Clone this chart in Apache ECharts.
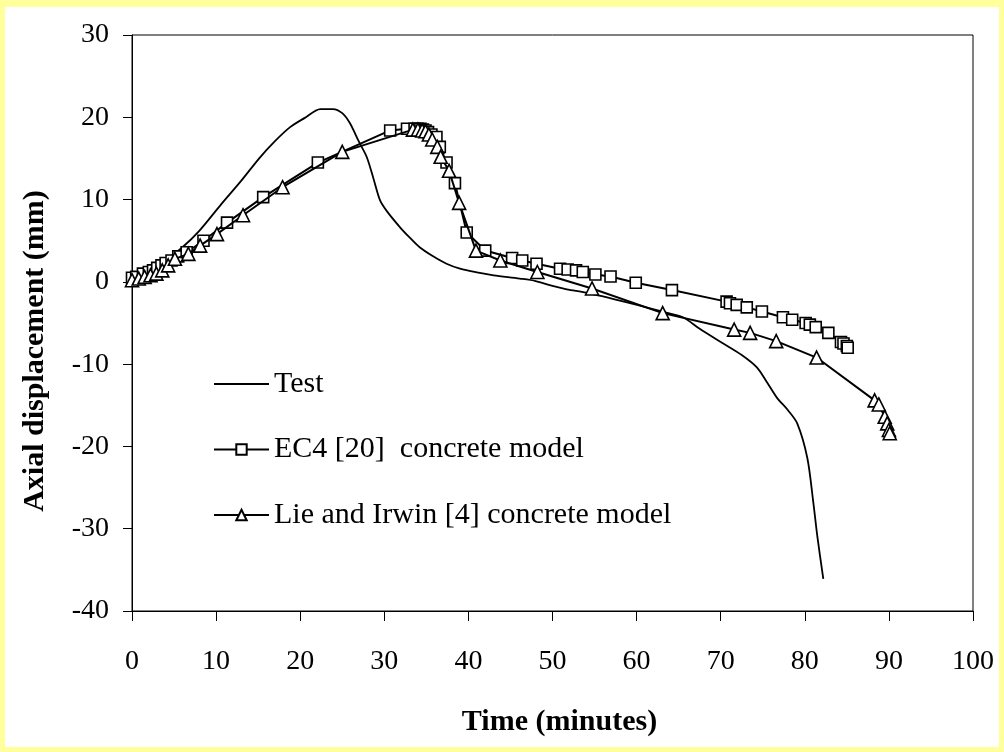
<!DOCTYPE html>
<html>
<head>
<meta charset="utf-8">
<script src="https://cdn.jsdelivr.net/npm/echarts@6/dist/echarts.min.js"></script>
<style>
  html, body { margin: 0; padding: 0; }
  body { width: 1004px; height: 752px; background: #FFFF9C; position: relative; overflow: hidden; }
  #chart { position: absolute; left: 5px; top: 7px; width: 994px; height: 740px; background: #ffffff; }
</style>
</head>
<body>
<div id="chart"></div>
<script>
// ---- data ----
const xTicks = [0, 10, 20, 30, 40, 50, 60, 70, 80, 90, 100];
const yTicks = [-40, -30, -20, -10, 0, 10, 20, 30];

const seriesNames = ['Test', 'EC4 [20]  concrete model', 'Lie and Irwin [4] concrete model'];

const testTime = [0, 2, 4, 6, 8, 10.5, 13, 15.2, 17, 18.8, 20.5, 22.4, 23.9, 25, 25.9, 27, 27.9, 28.7, 29.5, 30.3, 31.9, 33, 34.2, 35.8, 37.4, 39, 41, 43, 46.1, 48, 50, 51.7, 54, 56.5, 58.5, 60.4, 63, 65.5, 67.5, 70.3, 72.5, 74.3, 75.5, 76.7, 78, 79.1, 80.3, 81, 81.5, 82.2];
const testDisp = [0, 1.2, 2.6, 4.2, 6.2, 9.3, 12.3, 15.1, 17.1, 18.8, 19.9, 21.0, 21.0, 20.5, 19.3, 17.0, 15.2, 12.6, 9.9, 8.6, 6.6, 5.4, 4.2, 3.1, 2.2, 1.6, 1.15, 0.8, 0.4, 0.1, -0.5, -0.9, -1.3, -1.9, -2.4, -2.9, -3.6, -4.3, -5.7, -7.5, -8.9, -10.4, -12.2, -14.1, -15.6, -17.2, -21.4, -26.7, -31, -36.1];

const ec4Time = [0, 0.5, 1.3, 2.0, 2.5, 3.0, 3.5, 4.0, 4.7, 5.5, 6.5, 8.5, 11.3, 15.6, 22.1, 30.7, 32.7, 33.6, 34.0, 34.3, 34.6, 34.9, 35.2, 35.6, 36.2, 36.6, 37.4, 38.4, 39.8, 42.0, 45.2, 46.4, 48.1, 50.9, 51.8, 52.8, 53.6, 55.1, 56.9, 59.9, 64.2, 70.7, 71.1, 71.9, 73.1, 74.9, 77.4, 78.5, 80.1, 80.6, 81.3, 82.8, 84.3, 84.6, 85.0, 85.1];
const ec4Disp = [0.5, 0.6, 1.0, 1.2, 1.4, 1.7, 2.0, 2.3, 2.6, 3.1, 3.6, 5.0, 7.2, 10.3, 14.5, 18.4, 18.6, 18.6, 18.6, 18.6, 18.5, 18.4, 18.2, 17.9, 17.6, 16.4, 14.5, 12.0, 6.0, 3.8, 2.9, 2.6, 2.2, 1.6, 1.5, 1.4, 1.2, 0.9, 0.65, -0.1, -1.0, -2.4, -2.6, -2.8, -3.1, -3.6, -4.3, -4.6, -5.0, -5.2, -5.5, -6.2, -7.3, -7.5, -7.8, -8.0];

const lieTime = [0, 0.8, 1.5, 2.2, 2.9, 3.6, 4.3, 5.1, 6.7, 8.1, 10.1, 13.2, 17.9, 25.0, 33.4, 34.0, 34.5, 34.9, 35.3, 35.7, 36.3, 36.7, 37.7, 38.9, 40.9, 43.8, 48.2, 54.7, 63.1, 71.6, 73.5, 76.6, 81.4, 88.3, 88.8, 89.5, 89.8, 90.0, 90.1];
const lieDisp = [0.2, 0.4, 0.6, 0.8, 1.0, 1.4, 2.0, 2.8, 3.4, 4.4, 5.8, 8.1, 11.5, 15.8, 18.5, 18.5, 18.4, 18.3, 17.9, 17.3, 16.4, 15.2, 13.5, 9.6, 3.8, 2.6, 1.2, -0.8, -3.8, -5.8, -6.2, -7.2, -9.2, -14.4, -14.9, -16.4, -17.2, -18.0, -18.4];

const xAxisTitle = 'Time (minutes)';
const yAxisTitle = 'Axial displacement (mm)';

// ---- build ----
const zip = (a, b) => a.map((v, i) => [v, b[i]]);
const FONT = 'Liberation Serif';

const chart = echarts.init(document.getElementById('chart'), null, { renderer: 'canvas' });
chart.setOption({
  animation: false,
  backgroundColor: '#ffffff',
  grid: {
    left: 127, top: 28, width: 841, height: 576,
    show: true, borderColor: '#000', borderWidth: 1, backgroundColor: 'transparent'
  },
  xAxis: {
    type: 'value',
    min: xTicks[0], max: xTicks[xTicks.length - 1], interval: 10,
    axisLine: { show: true, onZero: false, lineStyle: { color: '#000', width: 1 } },
    axisTick: { show: true, inside: false, length: 10, lineStyle: { color: '#000', width: 1 } },
    axisLabel: { color: '#000', fontFamily: FONT, fontSize: 28, margin: 37 },
    splitLine: { show: false },
    name: xAxisTitle,
    nameLocation: 'middle',
    nameGap: 96,
    nameTextStyle: { color: '#000', fontFamily: FONT, fontSize: 30, fontWeight: 'bold', padding: [0, 0, 0, 14] }
  },
  yAxis: {
    type: 'value',
    min: yTicks[0], max: yTicks[yTicks.length - 1], interval: 10,
    axisLine: { show: true, onZero: false, lineStyle: { color: '#000', width: 1 } },
    axisTick: { show: true, inside: false, length: 9, lineStyle: { color: '#000', width: 1 } },
    axisLabel: { color: '#000', fontFamily: FONT, fontSize: 28, margin: 23 },
    splitLine: { show: false },
    name: yAxisTitle,
    nameLocation: 'middle',
    nameRotate: 90,
    nameGap: 82,
    nameTextStyle: { color: '#000', fontFamily: FONT, fontSize: 30, fontWeight: 'bold', padding: [0, 56, 0, 0] }
  },
  legend: {
    orient: 'vertical',
    left: 208, top: 362, padding: 0,
    itemWidth: 55, itemHeight: 13, itemGap: 35.5, itemTextGap: 12,
    selectedMode: false,
    textStyle: { color: '#000', fontFamily: FONT, fontSize: 30, lineHeight: 30 },
    data: [
      { name: seriesNames[0], itemStyle: { opacity: 0 } },
      seriesNames[1],
      seriesNames[2]
    ]
  },
  series: [
    {
      name: seriesNames[0], type: 'line',
      data: zip(testTime, testDisp),
      showSymbol: false, symbol: 'none', smooth: 0.3,
      lineStyle: { color: '#000', width: 1.8 },
      itemStyle: { color: '#000' },
      z: 3
    },
    {
      name: seriesNames[1], type: 'line',
      data: zip(ec4Time, ec4Disp),
      symbol: 'rect', symbolSize: 11,
      lineStyle: { color: '#000', width: 2 },
      itemStyle: { color: '#fff', borderColor: '#000', borderWidth: 1.6 },
      z: 4
    },
    {
      name: seriesNames[2], type: 'line',
      data: zip(lieTime, lieDisp),
      symbol: 'triangle', symbolSize: 13,
      lineStyle: { color: '#000', width: 2 },
      itemStyle: { color: '#fff', borderColor: '#000', borderWidth: 1.6 },
      z: 5
    }
  ]
});
</script>
</body>
</html>
